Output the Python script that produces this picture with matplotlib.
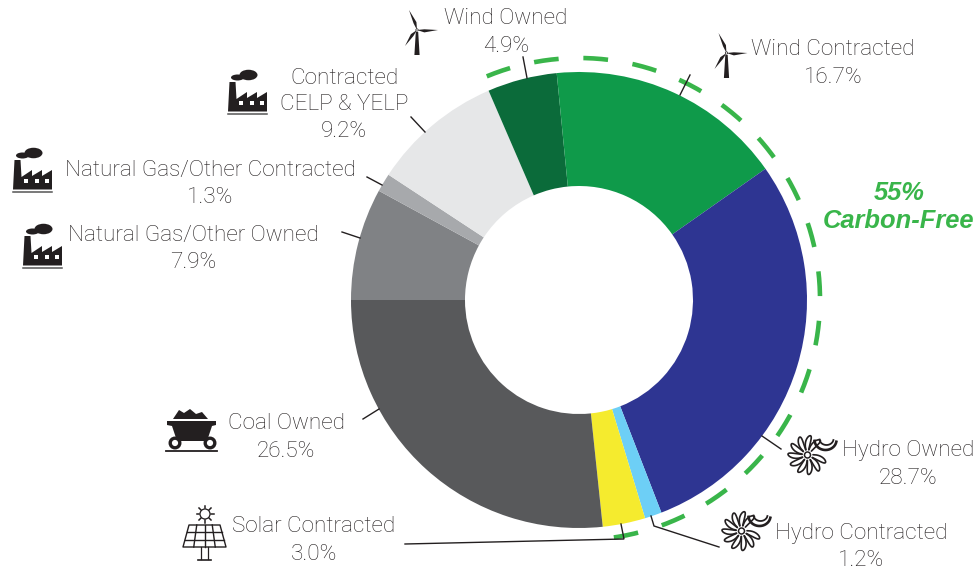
import numpy as np
import matplotlib
matplotlib.use('Agg')
import matplotlib.pyplot as plt
from matplotlib.patches import Polygon, Ellipse, Circle, Rectangle

W, H = 976, 571
DARK = '#231F20'
TXT = '#231F20'
GREEN = '#39B54A'

# clockwise from 9 o'clock
labels = ['Natural Gas/Other Owned', 'Natural Gas/Other Contracted', 'Contracted CELP & YELP',
          'Wind Owned', 'Wind Contracted', 'Hydro Owned', 'Hydro Contracted',
          'Solar Contracted', 'Coal Owned']
shares = [7.9, 1.3, 9.2, 4.9, 16.7, 28.7, 1.2, 3.0, 26.5]
colors = ['#808285', '#A7A9AC', '#E6E7E8', '#0B6B3A', '#0F9A4A', '#2E3592', '#6DCFF6', '#F5EB2E', '#58595B']

plt.rcParams['font.family'] = ['Roboto', 'Liberation Sans', 'DejaVu Sans']

fig = plt.figure(figsize=(W / 100, H / 100), dpi=100)
ax = fig.add_axes([0, 0, 1, 1])

CX, CY, R = 579, 300, 228

# the y axis gets flipped below so pie goes clockwise on its own
ax.pie(shares, colors=colors, center=(CX, CY), radius=R, startangle=180,
       wedgeprops=dict(width=R * 0.5, linewidth=0), frame=True)
ax.set_xlim(0, W)
ax.set_ylim(H, 0)   # pixel coords, y down
ax.set_aspect('equal')
ax.axis('off')

# carbon free arc
t = np.radians(np.linspace(-112.5, 86, 300))
ax.plot(CX + 241 * np.cos(t), CY - 1 + 241 * np.sin(t), color=GREEN, lw=3.3,
        dashes=(5.4, 5.4), dash_capstyle='butt', zorder=4)

# leader lines
leaders = [
    [(523, 57), (527, 78)],
    [(690, 75), (680, 95)],
    [(411, 117), (425, 132)],
    [(367, 177), (382, 185)],
    [(342, 232), (360, 238)],
    [(363, 419), (379, 409)],
    [(405, 544), (624, 539), (621, 524)],
    [(651, 516), (654, 526), (719, 547)],
    [(762, 436), (781, 449)],
]
for pts in leaders:
    xs, ys = zip(*pts)
    ax.plot(xs, ys, color=DARK, lw=1.0, zorder=5, solid_joinstyle='miter')

# text
FS = 16.2
texts = [
    ('Wind Owned', 506, 16), ('4.9%', 506, 44),
    ('Wind Contracted', 833, 47), ('16.7%', 833, 75),
    ('Contracted', 344, 76), ('CELP & YELP', 344, 102), ('9.2%', 344, 129),
    ('Natural Gas/Other Contracted', 210, 168), ('1.3%', 210, 195),
    ('Natural Gas/Other Owned', 193, 233), ('7.9%', 193, 260),
    ('Coal Owned', 286, 421), ('26.5%', 286, 449),
    ('Solar Contracted', 314, 524), ('3.0%', 314, 552),
    ('Hydro Contracted', 861, 531), ('1.2%', 861, 558),
    ('Hydro Owned', 908, 448), ('28.7%', 908, 476),
]
for s, x, y in texts:
    ax.text(x, y + 2.5, s, fontsize=FS, color=TXT, ha='center', va='center', fontweight='light')
ax.text(899, 193, '55%', fontsize=18.4, color=GREEN, ha='center', va='center',
        fontweight='bold', style='italic', family=['Liberation Sans', 'DejaVu Sans'])
ax.text(899, 221, 'Carbon-Free', fontsize=18.4, color=GREEN, ha='center', va='center',
        fontweight='bold', style='italic', family=['Liberation Sans', 'DejaVu Sans'])


# icons
def wind_icon(hx, hy):
    ax.add_patch(Polygon([(hx - 1.2, hy + 2), (hx + 1.2, hy + 2), (hx + 2.6, hy + 25),
                          (hx - 2.6, hy + 25)], color=DARK, lw=0))
    for tip in [(-8, -20), (21, 0), (-12, 16)]:
        tx, ty = hx + tip[0], hy + tip[1]
        n = np.hypot(*tip)
        # blade is widest about a third of the way out
        px, py = -tip[1] / n * 2.4, tip[0] / n * 2.4
        mx, my = hx + tip[0] * .35, hy + tip[1] * .35
        ax.add_patch(Polygon([(hx, hy), (mx + px, my + py), (tx, ty), (mx - px * .3, my - py * .3)],
                             color=DARK, lw=0, zorder=6))
    ax.add_patch(Circle((hx, hy), 1.2, fc='white', ec=DARK, lw=0.5, zorder=7))


def factory_icon(x, y):
    # x, y top left, 39 x 45 px
    ax.add_patch(Ellipse((x + 20.5, y + 5), 18, 10.5, color=DARK, lw=0))
    ax.add_patch(Ellipse((x + 9.5, y + 7.5), 13, 6, color=DARK, lw=0))
    ax.add_patch(Polygon([(x + 1.5, y + 12), (x + 7.5, y + 12), (x + 8.5, y + 29), (x + 19, y + 22), (x + 19, y + 28),
                          (x + 29, y + 22), (x + 29, y + 28), (x + 39, y + 22), (x + 39, y + 41.5), (x, y + 41.5)],
                         color=DARK, lw=0))
    for dx in (11, 22, 32):
        ax.add_patch(Rectangle((x + dx, y + 31), 4, 4, color='white', lw=0))
    ax.plot([x, x + 39], [y + 44, y + 44], color='#555555', lw=1.1)


def coal_icon(x, y):
    ax.add_patch(Polygon([(x + 7, y + 10), (x + 13, y + 1), (x + 18, y + 4), (x + 24, y), (x + 30, y + 5), (x + 36, y + 3),
                          (x + 42, y + 10)], color=DARK, lw=0))
    ax.add_patch(Polygon([(x + 1, y + 12), (x + 50, y + 12), (x + 50, y + 16), (x + 46, y + 17), (x + 41, y + 32),
                          (x + 11, y + 32), (x + 6, y + 17), (x + 1, y + 16)], color=DARK, lw=0))
    for dx in (9, 44):
        ax.add_patch(Circle((x + dx, y + 34), 4.8, fc='white', ec=DARK, lw=2.4, zorder=3))
    ax.plot([x, x + 51], [y + 41.5, y + 41.5], color=DARK, lw=1.3)


def solar_icon(x, y):
    sx, sy = x + 22, y + 9
    ax.add_patch(Circle((sx, sy), 5, fc='white', ec=DARK, lw=0.9))
    for a in np.radians(np.arange(0, 360, 45)):
        ax.plot([sx + 6 * np.cos(a), sx + 8.5 * np.cos(a)], [sy + 6 * np.sin(a), sy + 8.5 * np.sin(a)],
                color=DARK, lw=1.1)
    # panel, 4 cells across by 3 rows
    top, bot = y + 20, y + 42
    tl, tr, bl, br = x + 6, x + 37, x, x + 43
    ax.add_patch(Polygon([(tl, top), (tr, top), (br, bot), (bl, bot)], fc='white', ec=DARK, lw=1.0,
                         joinstyle='round'))
    for f in (1 / 3, 2 / 3):
        yy = top + f * (bot - top)
        ax.plot([tl + f * (bl - tl), tr + f * (br - tr)], [yy, yy], color=DARK, lw=1.0)
    for f in (.25, .5, .75):
        ax.plot([tl + f * (tr - tl), bl + f * (br - bl)], [top, bot], color=DARK, lw=1.0)
    ax.plot([x + 18, x + 18], [bot, y + 54], color=DARK, lw=0.9)
    ax.plot([x + 25, x + 25], [bot, y + 54], color=DARK, lw=0.9)
    ax.plot([x + 15, x + 28], [y + 55, y + 55], color=DARK, lw=1.2)


def hydro_icon(x, y):
    # x, y is the centre of the wheel
    ax.add_patch(Circle((x, y), 3, fc='white', ec=DARK, lw=1.1))
    s = np.linspace(0, 1, 24)
    # open loop petals, upper right left free for the vanes
    for deg in (-60, -92, -124, -156, -188, -220, -252, -284, -316, -348):
        a0 = np.radians(deg)
        rr = 5.5 + 14 * np.sin(np.pi * s) ** 0.7
        a = a0 + 0.26 * (2 * s - 1) + 0.18 * np.sin(np.pi * s)
        ax.plot(x + rr * np.cos(a), y + rr * np.sin(a), color=DARK, lw=1.2, solid_capstyle='round')
    # curved vanes upper right
    aa = np.radians(np.linspace(10, 175, 20))
    ax.plot(x + 18 + 11 * np.cos(aa), y - 15 + 10 * np.sin(aa), color=DARK, lw=1.9)
    ax.plot(x + 19 + 7 * np.cos(aa), y - 16 + 6 * np.sin(aa), color=DARK, lw=1.3)


wind_icon(417, 30)
wind_icon(726.5, 53)
factory_icon(228, 70)
factory_icon(13, 148)
factory_icon(23, 224)
coal_icon(166, 409)
solar_icon(183, 505)
hydro_icon(807.5, 455)
hydro_icon(741.5, 531)

fig.savefig('out.png', dpi=100)
